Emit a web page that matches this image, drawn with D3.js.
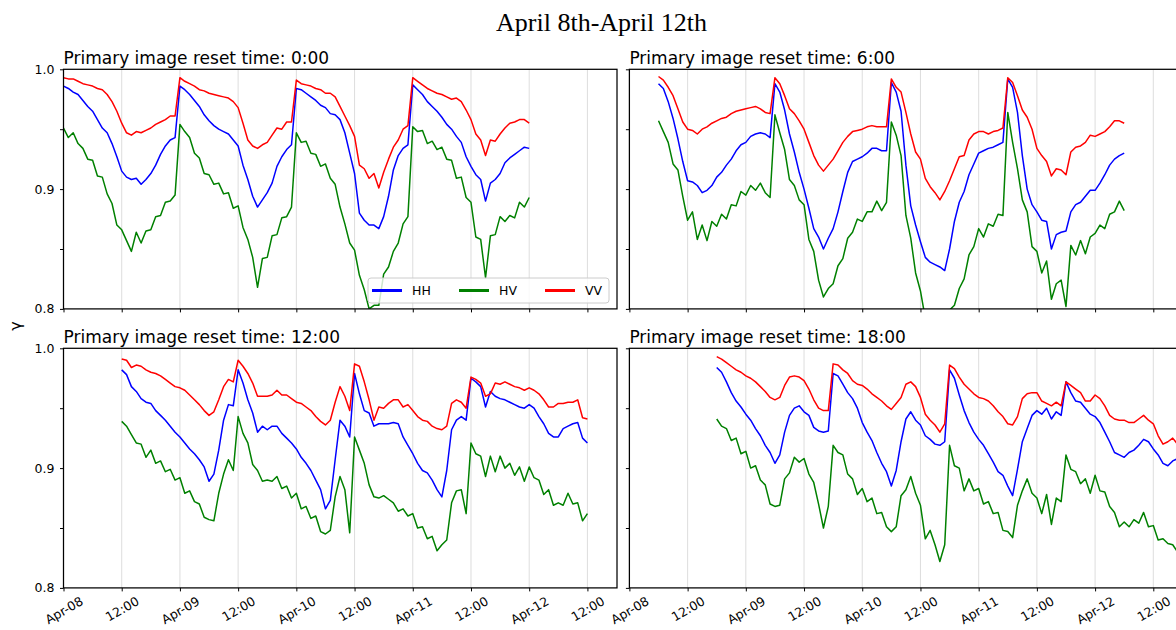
<!DOCTYPE html>
<html>
<head>
<meta charset="utf-8">
<script src="https://cdnjs.cloudflare.com/ajax/libs/d3/7.8.5/d3.min.js"></script>
<style>
  body { margin: 0; background: #ffffff; }
  svg { display: block; }
</style>
</head>
<body>
<svg id="chart" width="1176" height="630"></svg>
<script>
// ---- data -------------------------------------------------------------
const seriesNames  = ["HH", "HV", "VV"];
const seriesColors = ["#0000ff", "#008000", "#ff0000"];
const resetLabels  = ["0:00", "6:00", "12:00", "18:00"];
// first hourly sample of each run
const startTimes   = ["2019-04-08T00:00", "2019-04-08T06:00", "2019-04-08T12:00", "2019-04-08T18:00"];
const yTicks       = [0.8, 0.85, 0.9, 0.95, 1.0];
const yTickLabels  = ["0.8", "", "0.9", "", "1.0"];

// hourly coherence, primary image reset at 0:00
const hh_0000 = [0.986,0.984,0.981,0.979,0.974,0.969,0.965,0.958,0.951,0.947,0.938,0.927,0.915,0.910,0.908,0.909,0.904,0.908,0.913,0.920,0.929,0.936,0.941,0.943,
  0.986,0.983,0.979,0.974,0.969,0.962,0.957,0.953,0.950,0.948,0.946,0.941,0.936,0.920,0.908,0.894,0.885,0.891,0.897,0.905,0.919,0.927,0.933,0.937,
  0.984,0.983,0.980,0.977,0.974,0.970,0.968,0.963,0.962,0.958,0.947,0.930,0.913,0.880,0.874,0.870,0.870,0.867,0.877,0.894,0.916,0.928,0.934,0.937,
  0.987,0.983,0.979,0.973,0.969,0.965,0.960,0.954,0.950,0.944,0.939,0.927,0.919,0.912,0.908,0.890,0.905,0.908,0.913,0.922,0.926,0.929,0.932,0.935,0.934];
const hv_0000 = [0.951,0.943,0.947,0.938,0.934,0.925,0.924,0.911,0.910,0.896,0.888,0.870,0.866,0.857,0.848,0.864,0.855,0.865,0.866,0.877,0.878,0.889,0.890,0.895,
  0.954,0.948,0.943,0.930,0.926,0.913,0.912,0.904,0.905,0.896,0.897,0.884,0.886,0.868,0.858,0.843,0.818,0.842,0.843,0.861,0.862,0.876,0.877,0.885,
  0.947,0.939,0.940,0.930,0.929,0.919,0.921,0.909,0.904,0.885,0.871,0.855,0.849,0.828,0.816,0.800,0.803,0.803,0.829,0.835,0.848,0.855,0.871,0.877,
  0.952,0.948,0.949,0.938,0.940,0.933,0.935,0.925,0.924,0.909,0.910,0.893,0.889,0.860,0.858,0.826,0.861,0.862,0.877,0.873,0.878,0.876,0.889,0.885,0.893];
const vv_0000 = [0.993,0.992,0.992,0.990,0.988,0.987,0.986,0.984,0.983,0.979,0.973,0.965,0.955,0.947,0.945,0.948,0.947,0.949,0.951,0.954,0.956,0.958,0.961,0.961,
  0.993,0.990,0.988,0.986,0.983,0.982,0.980,0.979,0.978,0.977,0.976,0.973,0.968,0.955,0.941,0.936,0.934,0.937,0.939,0.945,0.951,0.950,0.956,0.956,
  0.991,0.988,0.987,0.986,0.984,0.983,0.980,0.980,0.977,0.969,0.961,0.953,0.944,0.920,0.917,0.909,0.913,0.901,0.914,0.925,0.935,0.941,0.950,0.953,
  0.993,0.990,0.987,0.984,0.982,0.980,0.979,0.977,0.975,0.976,0.973,0.966,0.958,0.946,0.941,0.928,0.941,0.940,0.946,0.951,0.955,0.956,0.958,0.958,0.955];

// hourly coherence, primary image reset at 6:00
const hh_0600 = [0.988,0.984,0.973,0.959,0.942,0.923,0.907,0.906,0.903,0.897,0.899,0.903,0.910,0.914,0.920,0.925,0.932,0.937,0.939,0.944,0.946,0.947,0.946,0.943,
  0.988,0.981,0.966,0.946,0.931,0.914,0.900,0.884,0.867,0.860,0.850,0.859,0.867,0.881,0.898,0.914,0.923,0.925,0.927,0.930,0.934,0.934,0.932,0.932,
  0.989,0.981,0.965,0.920,0.886,0.870,0.856,0.843,0.839,0.837,0.835,0.832,0.850,0.873,0.889,0.898,0.912,0.921,0.930,0.932,0.934,0.935,0.937,0.939,
  0.992,0.985,0.964,0.928,0.900,0.887,0.881,0.874,0.873,0.850,0.862,0.864,0.865,0.881,0.887,0.889,0.894,0.899,0.899,0.905,0.912,0.920,0.925,0.928,0.930];
const hv_0600 = [0.957,0.948,0.939,0.921,0.916,0.894,0.874,0.881,0.858,0.870,0.857,0.873,0.869,0.879,0.875,0.887,0.886,0.898,0.895,0.903,0.899,0.905,0.897,0.893,
  0.962,0.947,0.933,0.908,0.903,0.891,0.887,0.858,0.848,0.824,0.810,0.817,0.821,0.836,0.842,0.859,0.864,0.875,0.873,0.881,0.881,0.890,0.882,0.889,
  0.956,0.945,0.928,0.878,0.859,0.830,0.815,0.792,0.793,0.782,0.788,0.787,0.799,0.803,0.817,0.825,0.845,0.852,0.867,0.860,0.871,0.869,0.879,0.878,
  0.964,0.939,0.917,0.891,0.881,0.852,0.848,0.830,0.840,0.808,0.821,0.824,0.802,0.853,0.845,0.857,0.846,0.860,0.863,0.870,0.867,0.879,0.881,0.890,0.882];
const vv_0600 = [0.994,0.991,0.985,0.978,0.967,0.956,0.950,0.949,0.946,0.950,0.952,0.955,0.957,0.959,0.960,0.963,0.965,0.966,0.967,0.968,0.969,0.967,0.964,0.963,
  0.993,0.988,0.978,0.967,0.963,0.957,0.950,0.939,0.928,0.920,0.915,0.920,0.925,0.932,0.939,0.944,0.948,0.949,0.950,0.952,0.953,0.952,0.952,0.952,
  0.992,0.985,0.981,0.964,0.946,0.931,0.925,0.909,0.902,0.897,0.891,0.898,0.907,0.917,0.927,0.928,0.941,0.946,0.948,0.948,0.946,0.948,0.949,0.951,
  0.993,0.989,0.978,0.966,0.960,0.950,0.934,0.928,0.923,0.911,0.917,0.916,0.912,0.931,0.935,0.936,0.939,0.945,0.944,0.946,0.948,0.952,0.957,0.957,0.955];

// hourly coherence, primary image reset at 12:00
const hh_1200 = [0.982,0.978,0.968,0.964,0.958,0.955,0.954,0.948,0.944,0.940,0.935,0.930,0.926,0.921,0.916,0.912,0.907,0.901,0.889,0.895,0.915,0.940,0.953,0.952,
  0.982,0.971,0.957,0.946,0.930,0.935,0.932,0.935,0.935,0.929,0.925,0.921,0.916,0.909,0.904,0.898,0.890,0.882,0.866,0.873,0.907,0.940,0.935,0.926,
  0.979,0.962,0.948,0.946,0.935,0.937,0.937,0.937,0.938,0.937,0.926,0.919,0.912,0.904,0.898,0.896,0.890,0.882,0.876,0.898,0.932,0.940,0.943,0.940,
  0.975,0.972,0.968,0.951,0.964,0.960,0.958,0.957,0.955,0.953,0.951,0.950,0.953,0.950,0.943,0.937,0.929,0.926,0.926,0.933,0.935,0.937,0.938,0.925,0.921];
const hv_1200 = [0.939,0.935,0.928,0.921,0.920,0.909,0.915,0.904,0.906,0.897,0.899,0.890,0.892,0.879,0.881,0.872,0.870,0.859,0.857,0.856,0.879,0.895,0.907,0.898,
  0.943,0.929,0.921,0.903,0.898,0.889,0.890,0.889,0.893,0.883,0.885,0.875,0.879,0.866,0.868,0.858,0.860,0.847,0.845,0.848,0.876,0.893,0.882,0.846,
  0.926,0.915,0.904,0.886,0.876,0.875,0.877,0.874,0.871,0.864,0.866,0.860,0.862,0.850,0.851,0.841,0.843,0.831,0.836,0.840,0.871,0.881,0.882,0.862,
  0.921,0.912,0.910,0.893,0.910,0.897,0.910,0.900,0.904,0.894,0.901,0.889,0.901,0.892,0.890,0.878,0.882,0.869,0.871,0.869,0.879,0.870,0.871,0.856,0.862];
const vv_1200 = [0.991,0.990,0.984,0.986,0.985,0.982,0.980,0.979,0.977,0.974,0.971,0.968,0.967,0.965,0.961,0.957,0.953,0.948,0.944,0.947,0.957,0.968,0.974,0.972,
  0.990,0.985,0.979,0.971,0.960,0.960,0.960,0.961,0.965,0.961,0.961,0.958,0.955,0.954,0.951,0.948,0.943,0.939,0.936,0.940,0.955,0.968,0.960,0.948,
  0.987,0.985,0.972,0.957,0.940,0.951,0.950,0.954,0.957,0.957,0.951,0.953,0.948,0.943,0.940,0.939,0.935,0.933,0.932,0.935,0.954,0.957,0.955,0.950,
  0.976,0.974,0.971,0.960,0.962,0.971,0.970,0.972,0.970,0.968,0.967,0.965,0.967,0.965,0.962,0.957,0.951,0.951,0.954,0.954,0.955,0.955,0.957,0.942,0.941];

// hourly coherence, primary image reset at 18:00
const hh_1800 = [0.984,0.980,0.972,0.963,0.956,0.951,0.945,0.940,0.933,0.927,0.919,0.913,0.904,0.911,0.930,0.944,0.950,0.952,0.947,0.944,0.934,0.931,0.930,0.931,
  0.979,0.977,0.970,0.963,0.958,0.950,0.938,0.930,0.923,0.913,0.904,0.897,0.885,0.898,0.922,0.941,0.947,0.940,0.936,0.927,0.924,0.920,0.919,0.922,
  0.982,0.975,0.961,0.948,0.938,0.930,0.924,0.919,0.912,0.905,0.897,0.894,0.885,0.877,0.899,0.922,0.933,0.944,0.948,0.945,0.950,0.941,0.947,0.944,
  0.972,0.963,0.956,0.955,0.950,0.945,0.943,0.938,0.930,0.922,0.913,0.911,0.909,0.913,0.915,0.919,0.924,0.922,0.916,0.911,0.904,0.902,0.906,0.908,0.906];
const hv_1800 = [0.941,0.935,0.933,0.923,0.925,0.912,0.914,0.900,0.902,0.890,0.886,0.870,0.868,0.869,0.891,0.896,0.909,0.905,0.908,0.895,0.888,0.870,0.850,0.868,
  0.919,0.913,0.911,0.895,0.891,0.878,0.883,0.872,0.875,0.862,0.863,0.851,0.847,0.851,0.877,0.882,0.893,0.879,0.869,0.841,0.848,0.836,0.822,0.836,
  0.919,0.902,0.900,0.881,0.891,0.881,0.883,0.870,0.872,0.862,0.863,0.848,0.847,0.842,0.869,0.881,0.891,0.879,0.875,0.862,0.878,0.853,0.875,0.872,
  0.911,0.899,0.897,0.887,0.891,0.879,0.894,0.881,0.880,0.868,0.863,0.851,0.855,0.851,0.857,0.854,0.863,0.851,0.852,0.840,0.841,0.837,0.836,0.830,0.833];
const vv_1800 = [0.993,0.991,0.988,0.985,0.982,0.980,0.977,0.975,0.972,0.968,0.964,0.959,0.957,0.959,0.969,0.976,0.977,0.976,0.973,0.966,0.957,0.950,0.948,0.948,
  0.987,0.986,0.982,0.979,0.973,0.970,0.969,0.966,0.962,0.959,0.956,0.952,0.949,0.954,0.959,0.970,0.972,0.968,0.959,0.945,0.940,0.936,0.930,0.937,
  0.986,0.983,0.976,0.970,0.966,0.962,0.959,0.958,0.956,0.952,0.947,0.943,0.937,0.936,0.943,0.958,0.962,0.963,0.963,0.956,0.954,0.952,0.955,0.952,
  0.972,0.969,0.966,0.963,0.956,0.956,0.961,0.958,0.952,0.944,0.941,0.940,0.940,0.938,0.938,0.941,0.944,0.940,0.937,0.927,0.920,0.922,0.925,0.920,0.921];

const panels = [
  { reset: resetLabels[0], start: startTimes[0], series: [hh_0000, hv_0000, vv_0000] },
  { reset: resetLabels[1], start: startTimes[1], series: [hh_0600, hv_0600, vv_0600] },
  { reset: resetLabels[2], start: startTimes[2], series: [hh_1200, hv_1200, vv_1200] },
  { reset: resetLabels[3], start: startTimes[3], series: [hh_1800, hv_1800, vv_1800] }
];

// ---- layout -----------------------------------------------------------
const HOUR = 3600e3;
const parseTime = d3.utcParse("%Y-%m-%dT%H:%M");
const axisStart = parseTime("2019-04-08T00:00");
const axisEnd = new Date(+axisStart + 114.1 * HOUR);
const panelW = 553.5, panelH = 239.6;
const colX = [63.5, 629.4], rowY = [69.3, 348.3];
const fontSans = "'DejaVu Sans', sans-serif";
const tickFont = 12.5;

const svg = d3.select("#chart");
svg.append("rect").attr("width", 1176).attr("height", 630).attr("fill", "#ffffff");

svg.append("text")
  .attr("x", 601.5).attr("y", 31)
  .attr("text-anchor", "middle")
  .attr("font-family", "'Liberation Serif', 'Times New Roman', serif")
  .attr("font-size", 26)
  .text("April 8th-April 12th");

svg.append("text")
  .attr("transform", "translate(21,326) rotate(-90)")
  .attr("text-anchor", "middle")
  .attr("font-family", fontSans)
  .attr("font-size", 16)
  .text("γ");

const fmtDay = d3.utcFormat("%b-%d"), fmtHour = d3.utcFormat("%H:%M");

panels.forEach((p, i) => {
  const col = i % 2, row = Math.floor(i / 2);
  const g = svg.append("g").attr("transform", `translate(${colX[col]},${rowY[row]})`);

  const x = d3.scaleUtc().domain([axisStart, axisEnd]).range([0, panelW]);
  const y = d3.scaleLinear().domain([0.8, 1.0]).range([panelH, 0]);
  const xTicks = d3.utcHour.every(12).range(axisStart, axisEnd);

  // vertical grid
  g.append("g").selectAll("line").data(xTicks).join("line")
    .attr("x1", d => x(d)).attr("x2", d => x(d))
    .attr("y1", 0).attr("y2", panelH)
    .attr("stroke", "#b0b0b0").attr("stroke-opacity", 0.55).attr("stroke-width", 0.8);

  const clipId = "clip" + i;
  g.append("clipPath").attr("id", clipId)
    .append("rect").attr("width", panelW).attr("height", panelH);

  const t0 = parseTime(p.start);
  const line = d3.line()
    .x((d, j) => x(new Date(+t0 + j * HOUR)))
    .y(d => y(d));

  p.series.forEach((vals, k) => {
    g.append("path")
      .attr("clip-path", `url(#${clipId})`)
      .attr("d", line(vals))
      .attr("fill", "none")
      .attr("stroke", seriesColors[k])
      .attr("stroke-width", 1.5)
      .attr("stroke-linejoin", "round");
  });

  // x axis
  const xAxis = d3.axisBottom(x).tickValues(xTicks).tickSize(3.5)
    .tickFormat(d => row === 1 ? (d.getUTCHours() === 0 ? fmtDay(d) : fmtHour(d)) : "");
  const xg = g.append("g").attr("transform", `translate(0,${panelH})`).call(xAxis);
  xg.select(".domain").remove();
  xg.selectAll(".tick line").attr("stroke", "#000").attr("stroke-width", 1);
  xg.selectAll(".tick text")
    .attr("font-family", fontSans).attr("font-size", tickFont).attr("fill", "#000")
    .attr("y", null).attr("dy", null)
    .attr("text-anchor", "middle")
    .attr("dominant-baseline", "central")
    .each(function () {
      const w = this.getComputedTextLength();
      const cy = 5.5 + (w * 0.5 + 13) / 2;
      d3.select(this).attr("transform", `translate(0,${cy}) rotate(-30)`);
    });

  // y axis
  const yAxis = d3.axisLeft(y).tickValues(yTicks).tickSize(3.5).tickPadding(5.5)
    .tickFormat((d, j) => col === 0 ? yTickLabels[j] : "");
  const yg = g.append("g").call(yAxis);
  yg.select(".domain").remove();
  yg.selectAll(".tick line").attr("stroke", "#000").attr("stroke-width", 1);
  yg.selectAll(".tick text").attr("font-family", fontSans).attr("font-size", tickFont).attr("fill", "#000");

  // frame
  g.append("rect").attr("width", panelW).attr("height", panelH)
    .attr("fill", "none").attr("stroke", "#000").attr("stroke-width", 1.25);

  // panel title
  g.append("text").attr("x", 0).attr("y", -5)
    .attr("font-family", fontSans).attr("font-size", 17).attr("fill", "#000")
    .text("Primary image reset time: " + p.reset);

  // legend in the first panel
  if (i === 0) {
    const lg = g.append("g").attr("transform", "translate(304.5,208.7)");
    lg.append("rect").attr("width", 241).attr("height", 25).attr("rx", 3)
      .attr("fill", "#ffffff").attr("fill-opacity", 0.8)
      .attr("stroke", "#cccccc").attr("stroke-width", 1);
    const entryX = [4, 91, 177];
    seriesNames.forEach((name, k) => {
      lg.append("line").attr("x1", entryX[k]).attr("x2", entryX[k] + 30)
        .attr("y1", 12.5).attr("y2", 12.5)
        .attr("stroke", seriesColors[k]).attr("stroke-width", 3);
      lg.append("text").attr("x", entryX[k] + 40).attr("y", 17)
        .attr("font-family", fontSans).attr("font-size", tickFont).attr("fill", "#000")
        .text(name);
    });
  }
});
</script>
</body>
</html>
